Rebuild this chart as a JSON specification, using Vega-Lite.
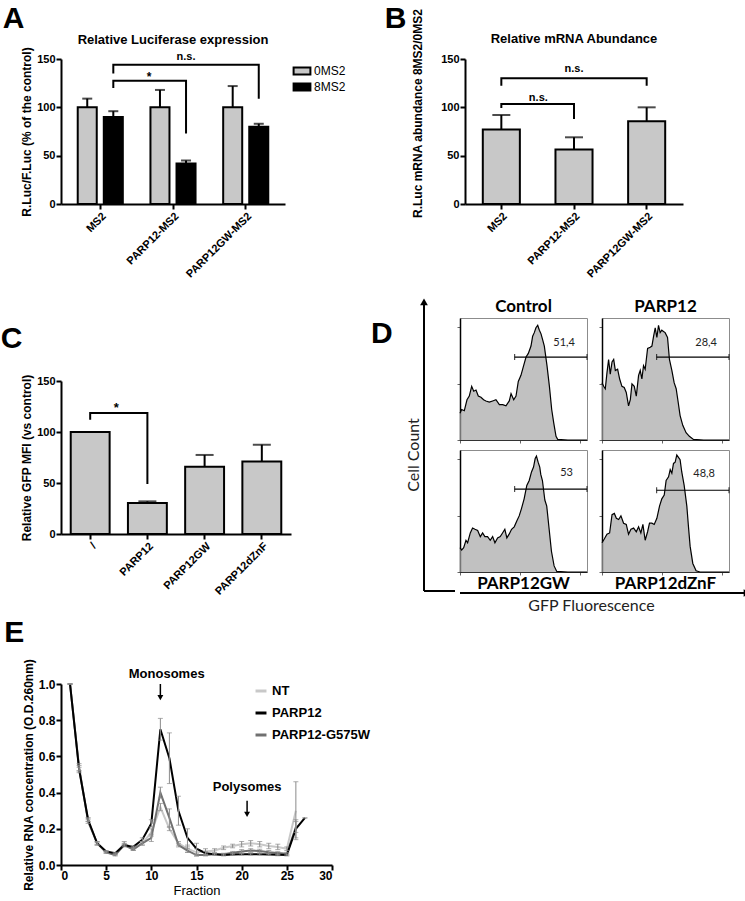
{
  "$schema": "https://vega.github.io/schema/vega-lite/v6.json",
  "background": "#ffffff",
  "padding": {"left": 0, "top": 3, "right": 0, "bottom": 0},
  "config": {
    "view": {"stroke": null},
    "font": "Liberation Sans",
    "axis": {"domainColor": "#000000", "domainWidth": 2, "tickColor": "#000000", "tickWidth": 2, "tickSize": 5, "labelColor": "#000000", "labelFontWeight": "bold", "labelFontSize": 11, "labelFont": "Liberation Sans", "titleColor": "#000000", "titleFontWeight": "bold", "titleFontSize": 12, "titleFont": "Liberation Sans", "grid": false, "labelPadding": 1, "titlePadding": 3, "labelOverlap": false},
    "title": {"color": "#000000", "fontWeight": "bold", "font": "Liberation Sans"},
    "legend": {"labelFont": "Liberation Sans", "labelColor": "#000000"}
  },
  "resolve": {"scale": {"color": "independent", "fill": "independent"}, "legend": {"color": "independent", "fill": "independent"}},
  "datasets": {
    "lucA": [
      {"construct": "MS2", "reporter": "0MS2", "mean": 100, "upper": 109},
      {"construct": "MS2", "reporter": "8MS2", "mean": 90, "upper": 96},
      {"construct": "PARP12-MS2", "reporter": "0MS2", "mean": 100, "upper": 118},
      {"construct": "PARP12-MS2", "reporter": "8MS2", "mean": 42, "upper": 45},
      {"construct": "PARP12GW-MS2", "reporter": "0MS2", "mean": 100, "upper": 122},
      {"construct": "PARP12GW-MS2", "reporter": "8MS2", "mean": 80, "upper": 83}
    ],
    "bracketA": [
      {"pair": "ns", "step": 1, "construct": "MS2", "reporter": "8MS2", "value": 135},
      {"pair": "ns", "step": 2, "construct": "MS2", "reporter": "8MS2", "value": 144},
      {"pair": "ns", "step": 3, "construct": "PARP12GW-MS2", "reporter": "8MS2", "value": 144},
      {"pair": "ns", "step": 4, "construct": "PARP12GW-MS2", "reporter": "8MS2", "value": 109},
      {"pair": "star", "step": 1, "construct": "MS2", "reporter": "8MS2", "value": 120},
      {"pair": "star", "step": 2, "construct": "MS2", "reporter": "8MS2", "value": 127.5},
      {"pair": "star", "step": 3, "construct": "PARP12-MS2", "reporter": "8MS2", "value": 127.5},
      {"pair": "star", "step": 4, "construct": "PARP12-MS2", "reporter": "8MS2", "value": 73}
    ],
    "mrnaB": [
      {"construct": "MS2", "mean": 77, "upper": 92},
      {"construct": "PARP12-MS2", "mean": 56.5, "upper": 69},
      {"construct": "PARP12GW-MS2", "mean": 85.5, "upper": 100}
    ],
    "bracketB": [
      {"pair": "wide", "step": 1, "construct": "MS2", "value": 122.4},
      {"pair": "wide", "step": 2, "construct": "MS2", "value": 130},
      {"pair": "wide", "step": 3, "construct": "PARP12GW-MS2", "value": 130},
      {"pair": "wide", "step": 4, "construct": "PARP12GW-MS2", "value": 122.4},
      {"pair": "near", "step": 1, "construct": "MS2", "value": 99.3},
      {"pair": "near", "step": 2, "construct": "MS2", "value": 103.4},
      {"pair": "near", "step": 3, "construct": "PARP12-MS2", "value": 103.4},
      {"pair": "near", "step": 4, "construct": "PARP12-MS2", "value": 88}
    ],
    "gfpC": [
      {"construct": "/", "mean": 100, "upper": 100},
      {"construct": "PARP12", "mean": 30.5, "upper": 32},
      {"construct": "PARP12GW", "mean": 66, "upper": 77.5},
      {"construct": "PARP12dZnF", "mean": 71, "upper": 87.5}
    ],
    "bracketC": [
      {"pair": "star", "step": 1, "construct": "/", "value": 112},
      {"pair": "star", "step": 2, "construct": "/", "value": 118.6},
      {"pair": "star", "step": 3, "construct": "PARP12", "value": 118.6},
      {"pair": "star", "step": 4, "construct": "PARP12", "value": 49}
    ],
    "flow": [
      {"sample": "Control", "fluor": 0, "count": 22}, {"sample": "Control", "fluor": 1.3, "count": 25}, {"sample": "Control", "fluor": 3.4, "count": 24}, {"sample": "Control", "fluor": 5.5, "count": 33}, {"sample": "Control", "fluor": 7.3, "count": 36}, {"sample": "Control", "fluor": 9.2, "count": 44}, {"sample": "Control", "fluor": 10.8, "count": 40}, {"sample": "Control", "fluor": 12.6, "count": 41}, {"sample": "Control", "fluor": 14.4, "count": 36}, {"sample": "Control", "fluor": 16.5, "count": 35}, {"sample": "Control", "fluor": 18.6, "count": 33}, {"sample": "Control", "fluor": 20.4, "count": 32}, {"sample": "Control", "fluor": 23.1, "count": 31}, {"sample": "Control", "fluor": 25.7, "count": 32}, {"sample": "Control", "fluor": 28.3, "count": 33}, {"sample": "Control", "fluor": 31.0, "count": 29}, {"sample": "Control", "fluor": 33.6, "count": 29}, {"sample": "Control", "fluor": 36.2, "count": 28}, {"sample": "Control", "fluor": 38.8, "count": 32}, {"sample": "Control", "fluor": 40.2, "count": 38}, {"sample": "Control", "fluor": 42.3, "count": 33}, {"sample": "Control", "fluor": 44.1, "count": 36}, {"sample": "Control", "fluor": 45.9, "count": 48}, {"sample": "Control", "fluor": 48.0, "count": 53}, {"sample": "Control", "fluor": 50.1, "count": 61}, {"sample": "Control", "fluor": 52.0, "count": 68}, {"sample": "Control", "fluor": 53.8, "count": 71}, {"sample": "Control", "fluor": 55.9, "count": 77}, {"sample": "Control", "fluor": 57.2, "count": 85}, {"sample": "Control", "fluor": 58.5, "count": 88}, {"sample": "Control", "fluor": 59.8, "count": 92}, {"sample": "Control", "fluor": 61.2, "count": 94}, {"sample": "Control", "fluor": 62.5, "count": 90}, {"sample": "Control", "fluor": 63.8, "count": 87}, {"sample": "Control", "fluor": 65.1, "count": 82}, {"sample": "Control", "fluor": 66.4, "count": 77}, {"sample": "Control", "fluor": 68.5, "count": 61}, {"sample": "Control", "fluor": 70.4, "count": 44}, {"sample": "Control", "fluor": 72.2, "count": 25}, {"sample": "Control", "fluor": 73.8, "count": 14}, {"sample": "Control", "fluor": 75.6, "count": 3}, {"sample": "Control", "fluor": 76.9, "count": 0.5}, {"sample": "Control", "fluor": 85, "count": 0}, {"sample": "Control", "fluor": 100, "count": 0},
      {"sample": "PARP12", "fluor": 0, "count": 47}, {"sample": "PARP12", "fluor": 1.3, "count": 44}, {"sample": "PARP12", "fluor": 2.6, "count": 42}, {"sample": "PARP12", "fluor": 3.9, "count": 55}, {"sample": "PARP12", "fluor": 5.2, "count": 66}, {"sample": "PARP12", "fluor": 6.5, "count": 54}, {"sample": "PARP12", "fluor": 7.9, "count": 64}, {"sample": "PARP12", "fluor": 9.2, "count": 66}, {"sample": "PARP12", "fluor": 10.5, "count": 57}, {"sample": "PARP12", "fluor": 12.3, "count": 58}, {"sample": "PARP12", "fluor": 13.9, "count": 50}, {"sample": "PARP12", "fluor": 15.7, "count": 44}, {"sample": "PARP12", "fluor": 17.5, "count": 43}, {"sample": "PARP12", "fluor": 19.1, "count": 39}, {"sample": "PARP12", "fluor": 20.9, "count": 28}, {"sample": "PARP12", "fluor": 22.3, "count": 33}, {"sample": "PARP12", "fluor": 23.6, "count": 46}, {"sample": "PARP12", "fluor": 25.4, "count": 44}, {"sample": "PARP12", "fluor": 27.0, "count": 36}, {"sample": "PARP12", "fluor": 28.8, "count": 53}, {"sample": "PARP12", "fluor": 30.1, "count": 57}, {"sample": "PARP12", "fluor": 31.4, "count": 50}, {"sample": "PARP12", "fluor": 32.7, "count": 61}, {"sample": "PARP12", "fluor": 34.0, "count": 58}, {"sample": "PARP12", "fluor": 35.9, "count": 75}, {"sample": "PARP12", "fluor": 38.0, "count": 76}, {"sample": "PARP12", "fluor": 39.3, "count": 77}, {"sample": "PARP12", "fluor": 40.6, "count": 85}, {"sample": "PARP12", "fluor": 41.9, "count": 92}, {"sample": "PARP12", "fluor": 43.2, "count": 84}, {"sample": "PARP12", "fluor": 44.5, "count": 94}, {"sample": "PARP12", "fluor": 45.8, "count": 88}, {"sample": "PARP12", "fluor": 47.1, "count": 90}, {"sample": "PARP12", "fluor": 48.4, "count": 89}, {"sample": "PARP12", "fluor": 49.7, "count": 88}, {"sample": "PARP12", "fluor": 51.6, "count": 84}, {"sample": "PARP12", "fluor": 53.1, "count": 66}, {"sample": "PARP12", "fluor": 55.0, "count": 57}, {"sample": "PARP12", "fluor": 56.8, "count": 47}, {"sample": "PARP12", "fluor": 58.4, "count": 42}, {"sample": "PARP12", "fluor": 59.7, "count": 33}, {"sample": "PARP12", "fluor": 61.5, "count": 20}, {"sample": "PARP12", "fluor": 63.6, "count": 12}, {"sample": "PARP12", "fluor": 66.2, "count": 6}, {"sample": "PARP12", "fluor": 68.8, "count": 3}, {"sample": "PARP12", "fluor": 72.0, "count": 0.5}, {"sample": "PARP12", "fluor": 80, "count": 0}, {"sample": "PARP12", "fluor": 100, "count": 0},
      {"sample": "PARP12GW", "fluor": 0, "count": 20}, {"sample": "PARP12GW", "fluor": 1.3, "count": 18}, {"sample": "PARP12GW", "fluor": 2.9, "count": 20}, {"sample": "PARP12GW", "fluor": 4.7, "count": 26}, {"sample": "PARP12GW", "fluor": 6.0, "count": 24}, {"sample": "PARP12GW", "fluor": 8.1, "count": 32}, {"sample": "PARP12GW", "fluor": 9.9, "count": 36}, {"sample": "PARP12GW", "fluor": 11.8, "count": 35}, {"sample": "PARP12GW", "fluor": 13.9, "count": 34}, {"sample": "PARP12GW", "fluor": 16.0, "count": 29}, {"sample": "PARP12GW", "fluor": 17.8, "count": 32}, {"sample": "PARP12GW", "fluor": 19.6, "count": 29}, {"sample": "PARP12GW", "fluor": 21.7, "count": 29}, {"sample": "PARP12GW", "fluor": 23.8, "count": 26}, {"sample": "PARP12GW", "fluor": 25.7, "count": 29}, {"sample": "PARP12GW", "fluor": 27.5, "count": 24}, {"sample": "PARP12GW", "fluor": 29.6, "count": 28}, {"sample": "PARP12GW", "fluor": 31.7, "count": 29}, {"sample": "PARP12GW", "fluor": 33.5, "count": 32}, {"sample": "PARP12GW", "fluor": 35.3, "count": 35}, {"sample": "PARP12GW", "fluor": 36.9, "count": 28}, {"sample": "PARP12GW", "fluor": 38.7, "count": 31}, {"sample": "PARP12GW", "fluor": 40.6, "count": 35}, {"sample": "PARP12GW", "fluor": 42.7, "count": 37}, {"sample": "PARP12GW", "fluor": 44.8, "count": 42}, {"sample": "PARP12GW", "fluor": 46.6, "count": 46}, {"sample": "PARP12GW", "fluor": 48.4, "count": 52}, {"sample": "PARP12GW", "fluor": 50.5, "count": 60}, {"sample": "PARP12GW", "fluor": 52.6, "count": 71}, {"sample": "PARP12GW", "fluor": 54.5, "count": 75}, {"sample": "PARP12GW", "fluor": 56.3, "count": 82}, {"sample": "PARP12GW", "fluor": 57.9, "count": 86}, {"sample": "PARP12GW", "fluor": 59.2, "count": 93}, {"sample": "PARP12GW", "fluor": 60.2, "count": 95}, {"sample": "PARP12GW", "fluor": 61.5, "count": 90}, {"sample": "PARP12GW", "fluor": 62.8, "count": 86}, {"sample": "PARP12GW", "fluor": 63.6, "count": 80}, {"sample": "PARP12GW", "fluor": 64.9, "count": 75}, {"sample": "PARP12GW", "fluor": 66.8, "count": 59}, {"sample": "PARP12GW", "fluor": 68.3, "count": 54}, {"sample": "PARP12GW", "fluor": 70.2, "count": 35}, {"sample": "PARP12GW", "fluor": 72.0, "count": 17}, {"sample": "PARP12GW", "fluor": 74.1, "count": 5}, {"sample": "PARP12GW", "fluor": 76.2, "count": 0.5}, {"sample": "PARP12GW", "fluor": 85, "count": 0}, {"sample": "PARP12GW", "fluor": 100, "count": 0},
      {"sample": "PARP12dZnF", "fluor": 0, "count": 24}, {"sample": "PARP12dZnF", "fluor": 1.8, "count": 27}, {"sample": "PARP12dZnF", "fluor": 3.9, "count": 31}, {"sample": "PARP12dZnF", "fluor": 6.0, "count": 32}, {"sample": "PARP12dZnF", "fluor": 7.9, "count": 47}, {"sample": "PARP12dZnF", "fluor": 9.7, "count": 48}, {"sample": "PARP12dZnF", "fluor": 11.3, "count": 44}, {"sample": "PARP12dZnF", "fluor": 13.1, "count": 43}, {"sample": "PARP12dZnF", "fluor": 14.9, "count": 46}, {"sample": "PARP12dZnF", "fluor": 17.0, "count": 40}, {"sample": "PARP12dZnF", "fluor": 19.1, "count": 39}, {"sample": "PARP12dZnF", "fluor": 20.9, "count": 31}, {"sample": "PARP12dZnF", "fluor": 22.8, "count": 35}, {"sample": "PARP12dZnF", "fluor": 24.9, "count": 36}, {"sample": "PARP12dZnF", "fluor": 27.0, "count": 33}, {"sample": "PARP12dZnF", "fluor": 28.8, "count": 37}, {"sample": "PARP12dZnF", "fluor": 30.6, "count": 32}, {"sample": "PARP12dZnF", "fluor": 32.2, "count": 39}, {"sample": "PARP12dZnF", "fluor": 34.0, "count": 26}, {"sample": "PARP12dZnF", "fluor": 35.9, "count": 33}, {"sample": "PARP12dZnF", "fluor": 37.4, "count": 40}, {"sample": "PARP12dZnF", "fluor": 39.3, "count": 40}, {"sample": "PARP12dZnF", "fluor": 41.1, "count": 39}, {"sample": "PARP12dZnF", "fluor": 43.2, "count": 44}, {"sample": "PARP12dZnF", "fluor": 45.3, "count": 54}, {"sample": "PARP12dZnF", "fluor": 47.1, "count": 60}, {"sample": "PARP12dZnF", "fluor": 49.0, "count": 63}, {"sample": "PARP12dZnF", "fluor": 50.5, "count": 75}, {"sample": "PARP12dZnF", "fluor": 52.4, "count": 78}, {"sample": "PARP12dZnF", "fluor": 53.7, "count": 84}, {"sample": "PARP12dZnF", "fluor": 55.0, "count": 81}, {"sample": "PARP12dZnF", "fluor": 56.3, "count": 89}, {"sample": "PARP12dZnF", "fluor": 57.6, "count": 90}, {"sample": "PARP12dZnF", "fluor": 58.9, "count": 96}, {"sample": "PARP12dZnF", "fluor": 60.2, "count": 94}, {"sample": "PARP12dZnF", "fluor": 61.5, "count": 92}, {"sample": "PARP12dZnF", "fluor": 62.8, "count": 82}, {"sample": "PARP12dZnF", "fluor": 64.7, "count": 71}, {"sample": "PARP12dZnF", "fluor": 66.8, "count": 54}, {"sample": "PARP12dZnF", "fluor": 68.1, "count": 37}, {"sample": "PARP12dZnF", "fluor": 69.4, "count": 21}, {"sample": "PARP12dZnF", "fluor": 71.5, "count": 7}, {"sample": "PARP12dZnF", "fluor": 74.1, "count": 1}, {"sample": "PARP12dZnF", "fluor": 77.2, "count": 0}, {"sample": "PARP12dZnF", "fluor": 100, "count": 0}
    ],
    "gates": [
      {"sample": "Control", "from": 43, "to": 100, "level": 68, "pct": "51,4"},
      {"sample": "PARP12", "from": 43, "to": 100, "level": 68, "pct": "28,4"},
      {"sample": "PARP12GW", "from": 43, "to": 100, "level": 68, "pct": "53"},
      {"sample": "PARP12dZnF", "from": 43, "to": 100, "level": 67, "pct": "48,8"}
    ],
    "profile": [
      {"series": "NT", "fraction": 1, "mean": 1.0, "lo": 1.0, "hi": 1.0},
      {"series": "NT", "fraction": 2, "mean": 0.53, "lo": 0.51, "hi": 0.55},
      {"series": "NT", "fraction": 3, "mean": 0.25, "lo": 0.24, "hi": 0.26},
      {"series": "NT", "fraction": 4, "mean": 0.12, "lo": 0.11, "hi": 0.13},
      {"series": "NT", "fraction": 5, "mean": 0.07, "lo": 0.065, "hi": 0.075},
      {"series": "NT", "fraction": 6, "mean": 0.06, "lo": 0.055, "hi": 0.065},
      {"series": "NT", "fraction": 7, "mean": 0.12, "lo": 0.11, "hi": 0.13},
      {"series": "NT", "fraction": 8, "mean": 0.09, "lo": 0.08, "hi": 0.10},
      {"series": "NT", "fraction": 9, "mean": 0.12, "lo": 0.11, "hi": 0.13},
      {"series": "NT", "fraction": 10, "mean": 0.18, "lo": 0.16, "hi": 0.20},
      {"series": "NT", "fraction": 11, "mean": 0.32, "lo": 0.30, "hi": 0.34},
      {"series": "NT", "fraction": 12, "mean": 0.20, "lo": 0.19, "hi": 0.21},
      {"series": "NT", "fraction": 13, "mean": 0.12, "lo": 0.11, "hi": 0.13},
      {"series": "NT", "fraction": 14, "mean": 0.09, "lo": 0.07, "hi": 0.11},
      {"series": "NT", "fraction": 15, "mean": 0.07, "lo": 0.05, "hi": 0.09},
      {"series": "NT", "fraction": 16, "mean": 0.075, "lo": 0.06, "hi": 0.09},
      {"series": "NT", "fraction": 17, "mean": 0.08, "lo": 0.07, "hi": 0.09},
      {"series": "NT", "fraction": 18, "mean": 0.095, "lo": 0.085, "hi": 0.105},
      {"series": "NT", "fraction": 19, "mean": 0.105, "lo": 0.095, "hi": 0.115},
      {"series": "NT", "fraction": 20, "mean": 0.115, "lo": 0.10, "hi": 0.13},
      {"series": "NT", "fraction": 21, "mean": 0.12, "lo": 0.105, "hi": 0.135},
      {"series": "NT", "fraction": 22, "mean": 0.115, "lo": 0.10, "hi": 0.13},
      {"series": "NT", "fraction": 23, "mean": 0.105, "lo": 0.09, "hi": 0.12},
      {"series": "NT", "fraction": 24, "mean": 0.10, "lo": 0.085, "hi": 0.115},
      {"series": "NT", "fraction": 25, "mean": 0.09, "lo": 0.08, "hi": 0.10},
      {"series": "NT", "fraction": 26, "mean": 0.30, "lo": 0.14, "hi": 0.46},
      {"series": "PARP12-G575W", "fraction": 1, "mean": 1.0, "lo": 1.0, "hi": 1.0},
      {"series": "PARP12-G575W", "fraction": 2, "mean": 0.54, "lo": 0.52, "hi": 0.56},
      {"series": "PARP12-G575W", "fraction": 3, "mean": 0.24, "lo": 0.23, "hi": 0.25},
      {"series": "PARP12-G575W", "fraction": 4, "mean": 0.12, "lo": 0.11, "hi": 0.13},
      {"series": "PARP12-G575W", "fraction": 5, "mean": 0.07, "lo": 0.065, "hi": 0.075},
      {"series": "PARP12-G575W", "fraction": 6, "mean": 0.055, "lo": 0.05, "hi": 0.06},
      {"series": "PARP12-G575W", "fraction": 7, "mean": 0.11, "lo": 0.10, "hi": 0.12},
      {"series": "PARP12-G575W", "fraction": 8, "mean": 0.085, "lo": 0.08, "hi": 0.09},
      {"series": "PARP12-G575W", "fraction": 9, "mean": 0.12, "lo": 0.11, "hi": 0.13},
      {"series": "PARP12-G575W", "fraction": 10, "mean": 0.15, "lo": 0.13, "hi": 0.17},
      {"series": "PARP12-G575W", "fraction": 11, "mean": 0.40, "lo": 0.37, "hi": 0.43},
      {"series": "PARP12-G575W", "fraction": 12, "mean": 0.26, "lo": 0.21, "hi": 0.31},
      {"series": "PARP12-G575W", "fraction": 13, "mean": 0.11, "lo": 0.10, "hi": 0.12},
      {"series": "PARP12-G575W", "fraction": 14, "mean": 0.08, "lo": 0.07, "hi": 0.09},
      {"series": "PARP12-G575W", "fraction": 15, "mean": 0.055, "lo": 0.05, "hi": 0.06},
      {"series": "PARP12-G575W", "fraction": 16, "mean": 0.055, "lo": 0.05, "hi": 0.06},
      {"series": "PARP12-G575W", "fraction": 17, "mean": 0.06, "lo": 0.055, "hi": 0.065},
      {"series": "PARP12-G575W", "fraction": 18, "mean": 0.06, "lo": 0.055, "hi": 0.065},
      {"series": "PARP12-G575W", "fraction": 19, "mean": 0.068, "lo": 0.06, "hi": 0.075},
      {"series": "PARP12-G575W", "fraction": 20, "mean": 0.075, "lo": 0.065, "hi": 0.085},
      {"series": "PARP12-G575W", "fraction": 21, "mean": 0.08, "lo": 0.07, "hi": 0.09},
      {"series": "PARP12-G575W", "fraction": 22, "mean": 0.077, "lo": 0.067, "hi": 0.087},
      {"series": "PARP12-G575W", "fraction": 23, "mean": 0.07, "lo": 0.06, "hi": 0.08},
      {"series": "PARP12-G575W", "fraction": 24, "mean": 0.066, "lo": 0.058, "hi": 0.074},
      {"series": "PARP12-G575W", "fraction": 25, "mean": 0.062, "lo": 0.055, "hi": 0.07},
      {"series": "PARP12-G575W", "fraction": 26, "mean": 0.21, "lo": 0.18, "hi": 0.24},
      {"series": "PARP12", "fraction": 1, "mean": 1.0, "lo": 1.0, "hi": 1.0},
      {"series": "PARP12", "fraction": 2, "mean": 0.53, "lo": 0.52, "hi": 0.54},
      {"series": "PARP12", "fraction": 3, "mean": 0.25, "lo": 0.24, "hi": 0.26},
      {"series": "PARP12", "fraction": 4, "mean": 0.12, "lo": 0.115, "hi": 0.125},
      {"series": "PARP12", "fraction": 5, "mean": 0.075, "lo": 0.07, "hi": 0.08},
      {"series": "PARP12", "fraction": 6, "mean": 0.065, "lo": 0.06, "hi": 0.07},
      {"series": "PARP12", "fraction": 7, "mean": 0.11, "lo": 0.105, "hi": 0.115},
      {"series": "PARP12", "fraction": 8, "mean": 0.10, "lo": 0.095, "hi": 0.105},
      {"series": "PARP12", "fraction": 9, "mean": 0.14, "lo": 0.13, "hi": 0.15},
      {"series": "PARP12", "fraction": 10, "mean": 0.23, "lo": 0.21, "hi": 0.25},
      {"series": "PARP12", "fraction": 11, "mean": 0.75, "lo": 0.69, "hi": 0.81},
      {"series": "PARP12", "fraction": 12, "mean": 0.59, "lo": 0.45, "hi": 0.73},
      {"series": "PARP12", "fraction": 13, "mean": 0.30, "lo": 0.22, "hi": 0.38},
      {"series": "PARP12", "fraction": 14, "mean": 0.15, "lo": 0.10, "hi": 0.20},
      {"series": "PARP12", "fraction": 15, "mean": 0.09, "lo": 0.06, "hi": 0.12},
      {"series": "PARP12", "fraction": 16, "mean": 0.065, "lo": 0.055, "hi": 0.075},
      {"series": "PARP12", "fraction": 17, "mean": 0.06, "lo": 0.055, "hi": 0.065},
      {"series": "PARP12", "fraction": 18, "mean": 0.055, "lo": 0.05, "hi": 0.06},
      {"series": "PARP12", "fraction": 19, "mean": 0.058, "lo": 0.053, "hi": 0.063},
      {"series": "PARP12", "fraction": 20, "mean": 0.06, "lo": 0.055, "hi": 0.065},
      {"series": "PARP12", "fraction": 21, "mean": 0.06, "lo": 0.055, "hi": 0.065},
      {"series": "PARP12", "fraction": 22, "mean": 0.06, "lo": 0.055, "hi": 0.065},
      {"series": "PARP12", "fraction": 23, "mean": 0.058, "lo": 0.053, "hi": 0.063},
      {"series": "PARP12", "fraction": 24, "mean": 0.056, "lo": 0.051, "hi": 0.061},
      {"series": "PARP12", "fraction": 25, "mean": 0.055, "lo": 0.05, "hi": 0.06},
      {"series": "PARP12", "fraction": 26, "mean": 0.20, "lo": 0.15, "hi": 0.25},
      {"series": "PARP12", "fraction": 27, "mean": 0.26, "lo": 0.26, "hi": 0.26}
    ],
    "annotE": [
      {"label": "Monosomes", "fraction": 11.7, "level": 1.055},
      {"label": "Polysomes", "fraction": 20.6, "level": 0.433}
    ],
    "arrowsE": [
      {"fraction": 11, "start": 1.0, "tip": 0.925},
      {"fraction": 20.6, "start": 0.355, "tip": 0.28}
    ]
  },
  "spacing": 17,
  "vconcat": [
    {
      "spacing": 34,
      "resolve": {"scale": {"color": "independent", "fill": "independent"}, "legend": {"color": "independent", "fill": "independent"}},
      "hconcat": [
        {
          "title": {"text": "A", "anchor": "start", "frame": "bounds", "fontSize": 30, "dx": -18, "offset": 0},
          "resolve": {"scale": {"fill": "independent"}, "legend": {"fill": "independent"}},
          "vconcat": [
            {
              "width": 224, "height": 145,
              "title": {"text": "Relative Luciferase expression", "fontSize": 13, "frame": "group", "offset": 0},
              "layer": [
                {
                  "data": {"name": "lucA"},
                  "mark": {"type": "bar", "stroke": "#000000", "strokeWidth": 2},
                  "encoding": {
                    "x": {"field": "construct", "type": "nominal", "sort": ["MS2", "PARP12-MS2", "PARP12GW-MS2"], "scale": {"paddingInner": 0.38, "paddingOuter": 0.23}, "axis": {"title": null, "labelAngle": -45}},
                    "xOffset": {"field": "reporter", "type": "nominal", "sort": ["0MS2", "8MS2"], "scale": {"paddingInner": 0.27}},
                    "y": {"field": "mean", "type": "quantitative", "scale": {"domain": [0, 150], "nice": false}, "axis": {"values": [0, 50, 100, 150], "title": "R.Luc/F.Luc (% of the control)"}},
                    "fill": {"field": "reporter", "type": "nominal", "scale": {"domain": ["0MS2", "8MS2"], "range": ["#c8c8c8", "#000000"]}, "legend": {"title": null, "orient": "right", "offset": 5, "symbolType": "M-1.2,-0.5H1.2V0.5H-1.2Z", "symbolSize": 196, "symbolStrokeColor": "#000000", "symbolStrokeWidth": 2, "labelFontSize": 12, "labelFontWeight": "normal", "rowPadding": 0, "padding": 4}}
                  }
                },
                {
                  "data": {"name": "lucA"},
                  "mark": {"type": "rule", "color": "#000000", "strokeWidth": 2},
                  "encoding": {
                    "x": {"field": "construct", "type": "nominal", "sort": ["MS2", "PARP12-MS2", "PARP12GW-MS2"]},
                    "xOffset": {"field": "reporter", "type": "nominal", "sort": ["0MS2", "8MS2"]},
                    "y": {"field": "mean", "type": "quantitative"},
                    "y2": {"field": "upper"}
                  }
                },
                {
                  "data": {"name": "lucA"},
                  "mark": {"type": "tick", "orient": "horizontal", "color": "#000000", "size": 10, "thickness": 2},
                  "encoding": {
                    "x": {"field": "construct", "type": "nominal", "sort": ["MS2", "PARP12-MS2", "PARP12GW-MS2"]},
                    "xOffset": {"field": "reporter", "type": "nominal", "sort": ["0MS2", "8MS2"]},
                    "y": {"field": "upper", "type": "quantitative"}
                  }
                },
                {
                  "data": {"name": "bracketA"},
                  "mark": {"type": "line", "color": "#000000", "strokeWidth": 2},
                  "encoding": {
                    "x": {"field": "construct", "type": "nominal", "sort": ["MS2", "PARP12-MS2", "PARP12GW-MS2"]},
                    "xOffset": {"field": "reporter", "type": "nominal", "sort": ["0MS2", "8MS2"]},
                    "y": {"field": "value", "type": "quantitative"},
                    "detail": {"field": "pair"},
                    "order": {"field": "step"}
                  }
                },
                {
                  "data": {"values": [{"label": "n.s.", "construct": "PARP12-MS2", "reporter": "8MS2", "value": 152}]},
                  "mark": {"type": "text", "fontWeight": "bold", "fontSize": 11, "baseline": "middle"},
                  "encoding": {
                    "x": {"field": "construct", "type": "nominal"},
                    "xOffset": {"field": "reporter", "type": "nominal"},
                    "y": {"field": "value", "type": "quantitative"},
                    "text": {"field": "label"}
                  }
                },
                {
                  "data": {"values": [{"label": "*", "construct": "PARP12-MS2", "reporter": "0MS2", "value": 131}]},
                  "mark": {"type": "text", "fontWeight": "bold", "fontSize": 12, "baseline": "middle", "dx": -11},
                  "encoding": {
                    "x": {"field": "construct", "type": "nominal"},
                    "xOffset": {"field": "reporter", "type": "nominal"},
                    "y": {"field": "value", "type": "quantitative"},
                    "text": {"field": "label"}
                  }
                }
              ]
            }
          ]
        },
        {
          "title": {"text": "B", "anchor": "start", "frame": "bounds", "fontSize": 30, "dx": -27, "dy": 30, "offset": 4},
          "vconcat": [
            {
              "width": 218, "height": 145,
              "title": {"text": "Relative mRNA Abundance", "fontSize": 13, "frame": "group", "offset": -38},
              "layer": [
                {
                  "data": {"name": "mrnaB"},
                  "mark": {"type": "bar", "stroke": "#000000", "strokeWidth": 2, "fill": "#c8c8c8"},
                  "encoding": {
                    "x": {"field": "construct", "type": "nominal", "sort": ["MS2", "PARP12-MS2", "PARP12GW-MS2"], "scale": {"paddingInner": 0.49, "paddingOuter": 0.245}, "axis": {"title": null, "labelAngle": -45}},
                    "y": {"field": "mean", "type": "quantitative", "scale": {"domain": [0, 150], "nice": false}, "axis": {"values": [0, 50, 100, 150], "title": "R.Luc mRNA abundance 8MS2/0MS2", "titleY": 54, "titlePadding": 16}}
                  }
                },
                {
                  "data": {"name": "mrnaB"},
                  "mark": {"type": "rule", "color": "#000000", "strokeWidth": 2},
                  "encoding": {
                    "x": {"field": "construct", "type": "nominal", "sort": ["MS2", "PARP12-MS2", "PARP12GW-MS2"]},
                    "y": {"field": "mean", "type": "quantitative"},
                    "y2": {"field": "upper"}
                  }
                },
                {
                  "data": {"name": "mrnaB"},
                  "mark": {"type": "tick", "orient": "horizontal", "color": "#000000", "size": 18, "thickness": 2},
                  "encoding": {
                    "x": {"field": "construct", "type": "nominal", "sort": ["MS2", "PARP12-MS2", "PARP12GW-MS2"]},
                    "y": {"field": "upper", "type": "quantitative"}
                  }
                },
                {
                  "data": {"name": "bracketB"},
                  "mark": {"type": "line", "color": "#000000", "strokeWidth": 2},
                  "encoding": {
                    "x": {"field": "construct", "type": "nominal", "sort": ["MS2", "PARP12-MS2", "PARP12GW-MS2"]},
                    "y": {"field": "value", "type": "quantitative"},
                    "detail": {"field": "pair"},
                    "order": {"field": "step"}
                  }
                },
                {
                  "data": {"values": [{"label": "n.s.", "construct": "PARP12-MS2", "value": 139.7}]},
                  "mark": {"type": "text", "fontWeight": "bold", "fontSize": 11, "baseline": "middle"},
                  "encoding": {
                    "x": {"field": "construct", "type": "nominal"},
                    "y": {"field": "value", "type": "quantitative"},
                    "text": {"field": "label"}
                  }
                },
                {
                  "data": {"values": [{"label": "n.s.", "construct": "MS2", "value": 110}]},
                  "mark": {"type": "text", "fontWeight": "bold", "fontSize": 11, "baseline": "middle", "dx": 37},
                  "encoding": {
                    "x": {"field": "construct", "type": "nominal"},
                    "y": {"field": "value", "type": "quantitative"},
                    "text": {"field": "label"}
                  }
                }
              ]
            }
          ]
        }
      ]
    },
    {
      "spacing": 5,
      "resolve": {"scale": {"color": "independent", "fill": "independent"}, "legend": {"color": "independent", "fill": "independent"}},
      "vconcat": [
        {
          "spacing": 80,
          "hconcat": [
            {
              "spacing": 5,
              "vconcat": [
                {
                  "width": 1, "height": 1,
                  "data": {"values": [{}]},
                  "mark": {"type": "point", "opacity": 0, "size": 1},
                  "encoding": {}
                },
                {
                  "width": 230, "height": 153,
                  "title": {"text": "C", "anchor": "start", "frame": "bounds", "fontSize": 30, "dx": -20, "offset": 20},
                  "layer": [
                    {
                      "data": {"name": "gfpC"},
                      "mark": {"type": "bar", "stroke": "#000000", "strokeWidth": 2, "fill": "#c8c8c8"},
                      "encoding": {
                        "x": {"field": "construct", "type": "nominal", "sort": ["/", "PARP12", "PARP12GW", "PARP12dZnF"], "scale": {"paddingInner": 0.32, "paddingOuter": 0.17}, "axis": {"title": null, "labelAngle": -45}},
                        "y": {"field": "mean", "type": "quantitative", "scale": {"domain": [0, 150], "nice": false}, "axis": {"values": [0, 50, 100, 150], "title": "Relative GFP MFI (vs control)"}}
                      }
                    },
                    {
                      "data": {"name": "gfpC"},
                      "mark": {"type": "rule", "color": "#000000", "strokeWidth": 2},
                      "encoding": {
                        "x": {"field": "construct", "type": "nominal", "sort": ["/", "PARP12", "PARP12GW", "PARP12dZnF"]},
                        "y": {"field": "mean", "type": "quantitative"},
                        "y2": {"field": "upper"}
                      }
                    },
                    {
                      "data": {"name": "gfpC"},
                      "mark": {"type": "tick", "orient": "horizontal", "color": "#000000", "size": 18, "thickness": 2},
                      "encoding": {
                        "x": {"field": "construct", "type": "nominal", "sort": ["/", "PARP12", "PARP12GW", "PARP12dZnF"]},
                        "y": {"field": "upper", "type": "quantitative"}
                      }
                    },
                    {
                      "data": {"name": "bracketC"},
                      "mark": {"type": "line", "color": "#000000", "strokeWidth": 2},
                      "encoding": {
                        "x": {"field": "construct", "type": "nominal", "sort": ["/", "PARP12", "PARP12GW", "PARP12dZnF"]},
                        "y": {"field": "value", "type": "quantitative"},
                        "detail": {"field": "pair"},
                        "order": {"field": "step"}
                      }
                    },
                    {
                      "data": {"values": [{"label": "*", "construct": "/", "value": 124}]},
                      "mark": {"type": "text", "fontWeight": "bold", "fontSize": 13, "baseline": "middle", "dx": 26},
                      "encoding": {
                        "x": {"field": "construct", "type": "nominal"},
                        "y": {"field": "value", "type": "quantitative"},
                        "text": {"field": "label"}
                      }
                    }
                  ]
                }
              ]
            },
            {
              "title": {"text": "D", "anchor": "start", "frame": "bounds", "fontSize": 30, "dx": -34, "dy": 55, "offset": 4},
              "spacing": 0,
              "hconcat": [
                {
                  "width": 31, "height": 273,
                  "layer": [
                    {
                      "data": {"values": [{}]},
                      "mark": {"type": "rule", "color": "#000000", "strokeWidth": 2},
                      "encoding": {
                        "x": {"datum": 0, "type": "quantitative", "scale": {"domain": [0, 1]}, "axis": null},
                        "y": {"datum": 0, "type": "quantitative", "scale": {"domain": [0, 1]}, "axis": {"title": "Cell Count", "domain": false, "ticks": false, "labels": false, "titleFont": "Lato", "titleFontSize": 16, "titleFontWeight": "normal", "titleColor": "#222222", "titlePadding": 3}},
                        "y2": {"datum": 1.059}
                      }
                    },
                    {
                      "data": {"values": [{}]},
                      "mark": {"type": "rule", "color": "#000000", "strokeWidth": 2},
                      "encoding": {
                        "x": {"datum": 0, "type": "quantitative"},
                        "x2": {"datum": 1},
                        "y": {"datum": 0, "type": "quantitative"}
                      }
                    },
                    {
                      "data": {"values": [{}]},
                      "mark": {"type": "point", "shape": "triangle-up", "filled": true, "color": "#000000", "opacity": 1, "size": 60},
                      "encoding": {
                        "x": {"datum": 0, "type": "quantitative"},
                        "y": {"datum": 1.059, "type": "quantitative"}
                      }
                    }
                  ]
                },
                {
                  "spacing": -11,
                  "vconcat": [
                    {
                      "spacing": 5,
                      "vconcat": [
                        {
                          "spacing": 8,
                          "hconcat": [
                            {
                              "width": 127, "height": 122,
                              "view": {"stroke": "#8c8c8c", "strokeWidth": 1},
                              "title": {"text": "Control", "font": "Lato", "fontSize": 17, "offset": 2},
                              "layer": [
                                {
                                  "data": {"name": "flow"},
                                  "transform": [{"filter": {"field": "sample", "equal": "Control"}}],
                                  "mark": {"type": "area", "color": "#a6a6a6", "line": {"color": "#000000", "strokeWidth": 1.2}},
                                  "encoding": {
                                    "x": {"field": "fluor", "type": "quantitative", "scale": {"domain": [0, 100], "nice": false}, "axis": {"title": null, "labels": false, "values": [0, 7.5, 11.9, 15.1, 17.5, 19.5, 21.1, 22.6, 23.9, 25, 32.5, 36.9, 40.1, 42.5, 44.5, 46.1, 47.6, 48.9, 50, 57.5, 61.9, 65.1, 67.5, 69.5, 71.1, 72.6, 73.9, 75, 82.5, 86.9, 90.1, 92.5, 94.5, 96.1, 97.6, 98.9, 100], "tickSize": 3, "tickWidth": 1, "tickColor": "#666666", "domainWidth": 1, "domainColor": "#333333"}},
                                    "y": {"field": "count", "type": "quantitative", "scale": {"domain": [0, 100], "nice": false}, "axis": {"title": null, "labels": false, "values": [0, 23, 46, 70, 93], "tickSize": 3, "tickWidth": 1, "tickColor": "#666666", "domainWidth": 1.5, "domainColor": "#000000"}}
                                  }
                                },
                                {"data": {"name": "gates"}, "transform": [{"filter": {"field": "sample", "equal": "Control"}}], "mark": {"type": "rule", "color": "#000000", "strokeWidth": 1.2}, "encoding": {"x": {"field": "from", "type": "quantitative"}, "x2": {"field": "to"}, "y": {"field": "level", "type": "quantitative"}}},
                                {"data": {"name": "gates"}, "transform": [{"filter": {"field": "sample", "equal": "Control"}}], "mark": {"type": "tick", "orient": "vertical", "size": 6, "thickness": 1.2, "color": "#000000"}, "encoding": {"x": {"field": "from", "type": "quantitative"}, "y": {"field": "level", "type": "quantitative"}}},
                                {"data": {"name": "gates"}, "transform": [{"filter": {"field": "sample", "equal": "Control"}}], "mark": {"type": "tick", "orient": "vertical", "size": 6, "thickness": 1.2, "color": "#000000"}, "encoding": {"x": {"field": "to", "type": "quantitative"}, "y": {"field": "level", "type": "quantitative"}}},
                                {"data": {"name": "gates"}, "transform": [{"filter": {"field": "sample", "equal": "Control"}}], "mark": {"type": "text", "font": "Lato", "fontSize": 11, "color": "#222222", "align": "right", "baseline": "middle", "dx": -12, "dy": -14}, "encoding": {"x": {"field": "to", "type": "quantitative"}, "y": {"field": "level", "type": "quantitative"}, "text": {"field": "pct"}}}
                              ]
                            },
                            {
                              "width": 127, "height": 122,
                              "view": {"stroke": "#8c8c8c", "strokeWidth": 1},
                              "title": {"text": "PARP12", "font": "Lato", "fontSize": 17, "offset": 2},
                              "layer": [
                                {
                                  "data": {"name": "flow"},
                                  "transform": [{"filter": {"field": "sample", "equal": "PARP12"}}],
                                  "mark": {"type": "area", "color": "#a6a6a6", "line": {"color": "#000000", "strokeWidth": 1.2}},
                                  "encoding": {
                                    "x": {"field": "fluor", "type": "quantitative", "scale": {"domain": [0, 100], "nice": false}, "axis": {"title": null, "labels": false, "values": [0, 7.5, 11.9, 15.1, 17.5, 19.5, 21.1, 22.6, 23.9, 25, 32.5, 36.9, 40.1, 42.5, 44.5, 46.1, 47.6, 48.9, 50, 57.5, 61.9, 65.1, 67.5, 69.5, 71.1, 72.6, 73.9, 75, 82.5, 86.9, 90.1, 92.5, 94.5, 96.1, 97.6, 98.9, 100], "tickSize": 3, "tickWidth": 1, "tickColor": "#666666", "domainWidth": 1, "domainColor": "#333333"}},
                                    "y": {"field": "count", "type": "quantitative", "scale": {"domain": [0, 100], "nice": false}, "axis": {"title": null, "labels": false, "values": [0, 23, 46, 70, 93], "tickSize": 3, "tickWidth": 1, "tickColor": "#666666", "domainWidth": 1.5, "domainColor": "#000000"}}
                                  }
                                },
                                {"data": {"name": "gates"}, "transform": [{"filter": {"field": "sample", "equal": "PARP12"}}], "mark": {"type": "rule", "color": "#000000", "strokeWidth": 1.2}, "encoding": {"x": {"field": "from", "type": "quantitative"}, "x2": {"field": "to"}, "y": {"field": "level", "type": "quantitative"}}},
                                {"data": {"name": "gates"}, "transform": [{"filter": {"field": "sample", "equal": "PARP12"}}], "mark": {"type": "tick", "orient": "vertical", "size": 6, "thickness": 1.2, "color": "#000000"}, "encoding": {"x": {"field": "from", "type": "quantitative"}, "y": {"field": "level", "type": "quantitative"}}},
                                {"data": {"name": "gates"}, "transform": [{"filter": {"field": "sample", "equal": "PARP12"}}], "mark": {"type": "tick", "orient": "vertical", "size": 6, "thickness": 1.2, "color": "#000000"}, "encoding": {"x": {"field": "to", "type": "quantitative"}, "y": {"field": "level", "type": "quantitative"}}},
                                {"data": {"name": "gates"}, "transform": [{"filter": {"field": "sample", "equal": "PARP12"}}], "mark": {"type": "text", "font": "Lato", "fontSize": 11, "color": "#222222", "align": "right", "baseline": "middle", "dx": -12, "dy": -14}, "encoding": {"x": {"field": "to", "type": "quantitative"}, "y": {"field": "level", "type": "quantitative"}, "text": {"field": "pct"}}}
                              ]
                            }
                          ]
                        },
                        {
                          "spacing": 8,
                          "hconcat": [
                            {
                              "width": 127, "height": 122,
                              "view": {"stroke": "#8c8c8c", "strokeWidth": 1},
                              "title": {"text": "PARP12GW", "orient": "bottom", "font": "Lato", "fontSize": 17, "offset": 0},
                              "layer": [
                                {
                                  "data": {"name": "flow"},
                                  "transform": [{"filter": {"field": "sample", "equal": "PARP12GW"}}],
                                  "mark": {"type": "area", "color": "#a6a6a6", "line": {"color": "#000000", "strokeWidth": 1.2}},
                                  "encoding": {
                                    "x": {"field": "fluor", "type": "quantitative", "scale": {"domain": [0, 100], "nice": false}, "axis": {"title": null, "labels": false, "values": [0, 7.5, 11.9, 15.1, 17.5, 19.5, 21.1, 22.6, 23.9, 25, 32.5, 36.9, 40.1, 42.5, 44.5, 46.1, 47.6, 48.9, 50, 57.5, 61.9, 65.1, 67.5, 69.5, 71.1, 72.6, 73.9, 75, 82.5, 86.9, 90.1, 92.5, 94.5, 96.1, 97.6, 98.9, 100], "tickSize": 3, "tickWidth": 1, "tickColor": "#666666", "domainWidth": 1, "domainColor": "#333333"}},
                                    "y": {"field": "count", "type": "quantitative", "scale": {"domain": [0, 100], "nice": false}, "axis": {"title": null, "labels": false, "values": [0, 23, 46, 70, 93], "tickSize": 3, "tickWidth": 1, "tickColor": "#666666", "domainWidth": 1.5, "domainColor": "#000000"}}
                                  }
                                },
                                {"data": {"name": "gates"}, "transform": [{"filter": {"field": "sample", "equal": "PARP12GW"}}], "mark": {"type": "rule", "color": "#000000", "strokeWidth": 1.2}, "encoding": {"x": {"field": "from", "type": "quantitative"}, "x2": {"field": "to"}, "y": {"field": "level", "type": "quantitative"}}},
                                {"data": {"name": "gates"}, "transform": [{"filter": {"field": "sample", "equal": "PARP12GW"}}], "mark": {"type": "tick", "orient": "vertical", "size": 6, "thickness": 1.2, "color": "#000000"}, "encoding": {"x": {"field": "from", "type": "quantitative"}, "y": {"field": "level", "type": "quantitative"}}},
                                {"data": {"name": "gates"}, "transform": [{"filter": {"field": "sample", "equal": "PARP12GW"}}], "mark": {"type": "tick", "orient": "vertical", "size": 6, "thickness": 1.2, "color": "#000000"}, "encoding": {"x": {"field": "to", "type": "quantitative"}, "y": {"field": "level", "type": "quantitative"}}},
                                {"data": {"name": "gates"}, "transform": [{"filter": {"field": "sample", "equal": "PARP12GW"}}], "mark": {"type": "text", "font": "Lato", "fontSize": 11, "color": "#222222", "align": "right", "baseline": "middle", "dx": -14, "dy": -16}, "encoding": {"x": {"field": "to", "type": "quantitative"}, "y": {"field": "level", "type": "quantitative"}, "text": {"field": "pct"}}}
                              ]
                            },
                            {
                              "width": 127, "height": 122,
                              "view": {"stroke": "#8c8c8c", "strokeWidth": 1},
                              "title": {"text": "PARP12dZnF", "orient": "bottom", "font": "Lato", "fontSize": 17, "offset": 0},
                              "layer": [
                                {
                                  "data": {"name": "flow"},
                                  "transform": [{"filter": {"field": "sample", "equal": "PARP12dZnF"}}],
                                  "mark": {"type": "area", "color": "#a6a6a6", "line": {"color": "#000000", "strokeWidth": 1.2}},
                                  "encoding": {
                                    "x": {"field": "fluor", "type": "quantitative", "scale": {"domain": [0, 100], "nice": false}, "axis": {"title": null, "labels": false, "values": [0, 7.5, 11.9, 15.1, 17.5, 19.5, 21.1, 22.6, 23.9, 25, 32.5, 36.9, 40.1, 42.5, 44.5, 46.1, 47.6, 48.9, 50, 57.5, 61.9, 65.1, 67.5, 69.5, 71.1, 72.6, 73.9, 75, 82.5, 86.9, 90.1, 92.5, 94.5, 96.1, 97.6, 98.9, 100], "tickSize": 3, "tickWidth": 1, "tickColor": "#666666", "domainWidth": 1, "domainColor": "#333333"}},
                                    "y": {"field": "count", "type": "quantitative", "scale": {"domain": [0, 100], "nice": false}, "axis": {"title": null, "labels": false, "values": [0, 23, 46, 70, 93], "tickSize": 3, "tickWidth": 1, "tickColor": "#666666", "domainWidth": 1.5, "domainColor": "#000000"}}
                                  }
                                },
                                {"data": {"name": "gates"}, "transform": [{"filter": {"field": "sample", "equal": "PARP12dZnF"}}], "mark": {"type": "rule", "color": "#000000", "strokeWidth": 1.2}, "encoding": {"x": {"field": "from", "type": "quantitative"}, "x2": {"field": "to"}, "y": {"field": "level", "type": "quantitative"}}},
                                {"data": {"name": "gates"}, "transform": [{"filter": {"field": "sample", "equal": "PARP12dZnF"}}], "mark": {"type": "tick", "orient": "vertical", "size": 6, "thickness": 1.2, "color": "#000000"}, "encoding": {"x": {"field": "from", "type": "quantitative"}, "y": {"field": "level", "type": "quantitative"}}},
                                {"data": {"name": "gates"}, "transform": [{"filter": {"field": "sample", "equal": "PARP12dZnF"}}], "mark": {"type": "tick", "orient": "vertical", "size": 6, "thickness": 1.2, "color": "#000000"}, "encoding": {"x": {"field": "to", "type": "quantitative"}, "y": {"field": "level", "type": "quantitative"}}},
                                {"data": {"name": "gates"}, "transform": [{"filter": {"field": "sample", "equal": "PARP12dZnF"}}], "mark": {"type": "text", "font": "Lato", "fontSize": 11, "color": "#222222", "align": "right", "baseline": "middle", "dx": -14, "dy": -16}, "encoding": {"x": {"field": "to", "type": "quantitative"}, "y": {"field": "level", "type": "quantitative"}, "text": {"field": "pct"}}}
                              ]
                            }
                          ]
                        }
                      ]
                    },
                    {
                      "width": 287, "height": 1,
                      "layer": [
                        {
                          "data": {"values": [{}]},
                          "mark": {"type": "rule", "color": "#000000", "strokeWidth": 2},
                          "encoding": {
                            "x": {"datum": 0, "type": "quantitative", "scale": {"domain": [0, 1]}, "axis": {"title": "GFP Fluorescence", "domain": false, "ticks": false, "labels": false, "titleFont": "Lato", "titleFontSize": 16, "titleFontWeight": "normal", "titleColor": "#222222", "titleX": 131, "titlePadding": 4}},
                            "x2": {"datum": 1},
                            "y": {"datum": 0, "type": "quantitative", "scale": {"domain": [0, 1]}, "axis": null}
                          }
                        },
                        {
                          "data": {"values": [{}]},
                          "mark": {"type": "point", "shape": "triangle-right", "filled": true, "color": "#000000", "opacity": 1, "size": 60},
                          "encoding": {
                            "x": {"datum": 1, "type": "quantitative"},
                            "y": {"datum": 0, "type": "quantitative"}
                          }
                        }
                      ]
                    }
                  ]
                }
              ]
            }
          ]
        },
        {
          "width": 271, "height": 181,
          "title": {"text": "E", "anchor": "start", "frame": "bounds", "fontSize": 30, "dx": -18, "offset": 10},
          "layer": [
            {
              "data": {"name": "profile"},
              "mark": {"type": "line", "strokeWidth": 2},
              "encoding": {
                "x": {"field": "fraction", "type": "quantitative", "scale": {"domain": [0, 30], "nice": false}, "axis": {"tickCount": 6, "title": "Fraction", "titleFontWeight": "normal", "titleFontSize": 13, "labelFontSize": 12, "labelPadding": 0, "titlePadding": 3}},
                "y": {"field": "mean", "type": "quantitative", "scale": {"domain": [0, 1], "nice": false}, "axis": {"tickCount": 5, "format": ".1f", "title": "Relative RNA concentration (O.D.260nm)", "labelFontSize": 12, "labelOverlap": false, "labelBound": false, "labelFlush": false, "labelSeparation": 0}},
                "color": {"field": "series", "type": "nominal", "scale": {"domain": ["NT", "PARP12", "PARP12-G575W"], "range": ["#c8c8c8", "#000000", "#707070"]}, "legend": {"title": null, "orient": "none", "legendX": 193, "legendY": 0, "symbolType": "stroke", "symbolStrokeWidth": 3, "symbolSize": 120, "labelFontSize": 13, "labelFontWeight": "bold", "rowPadding": 8}}
              }
            },
            {
              "data": {"name": "profile"},
              "mark": {"type": "rule", "color": "#8a8a8a", "strokeWidth": 1},
              "encoding": {
                "x": {"field": "fraction", "type": "quantitative"},
                "y": {"field": "lo", "type": "quantitative"},
                "y2": {"field": "hi"}
              }
            },
            {
              "data": {"name": "profile"},
              "mark": {"type": "tick", "orient": "horizontal", "color": "#8a8a8a", "size": 5, "thickness": 1},
              "encoding": {"x": {"field": "fraction", "type": "quantitative"}, "y": {"field": "lo", "type": "quantitative"}}
            },
            {
              "data": {"name": "profile"},
              "mark": {"type": "tick", "orient": "horizontal", "color": "#8a8a8a", "size": 5, "thickness": 1},
              "encoding": {"x": {"field": "fraction", "type": "quantitative"}, "y": {"field": "hi", "type": "quantitative"}}
            },
            {
              "data": {"name": "annotE"},
              "mark": {"type": "text", "fontWeight": "bold", "fontSize": 13, "baseline": "middle"},
              "encoding": {
                "x": {"field": "fraction", "type": "quantitative"},
                "y": {"field": "level", "type": "quantitative"},
                "text": {"field": "label"}
              }
            },
            {
              "data": {"name": "arrowsE"},
              "mark": {"type": "rule", "color": "#000000", "strokeWidth": 1.5},
              "encoding": {
                "x": {"field": "fraction", "type": "quantitative"},
                "y": {"field": "start", "type": "quantitative"},
                "y2": {"field": "tip"}
              }
            },
            {
              "data": {"name": "arrowsE"},
              "mark": {"type": "point", "shape": "triangle-down", "filled": true, "color": "#000000", "opacity": 1, "size": 35},
              "encoding": {
                "x": {"field": "fraction", "type": "quantitative"},
                "y": {"field": "tip", "type": "quantitative"}
              }
            }
          ]
        }
      ]
    }
  ]
}
